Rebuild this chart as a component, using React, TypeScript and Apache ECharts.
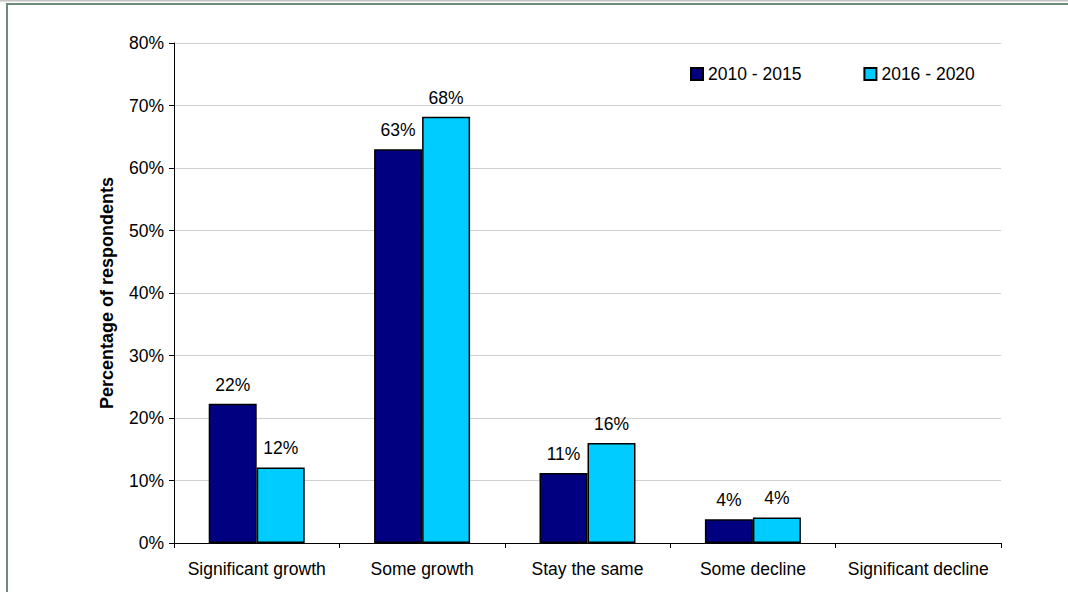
import React, { useEffect, useRef } from "react";
import * as echarts from "echarts";

const categories = ["Significant growth", "Some growth", "Stay the same", "Some decline", "Significant decline"];
const series2010 = [22.3, 63.0, 11.2, 3.8, 0];
const series2016 = [12.1, 68.2, 16.0, 4.1, 0];
const seriesNames = ["2010 - 2015", "2016 - 2020"];
const yTicks = [0, 10, 20, 30, 40, 50, 60, 70, 80];

const FONT = "'Liberation Sans', Arial, sans-serif";
const FS = 17.5;

export default function App() {
  const ref = useRef<HTMLDivElement>(null);
  useEffect(() => {
    document.body.style.margin = "0";
    const chart = echarts.init(ref.current!, null, { renderer: "svg" });
    const labelOpt = {
      show: true,
      position: "top",
      distance: 10,
      color: "#000",
      fontSize: FS,
      fontFamily: FONT,
      formatter: (p: any) => (p.value > 0 ? Math.round(p.value) + "%" : ""),
    };
    const toData = (arr: number[]) =>
      arr.map((v) => (v > 0 ? v : { value: v, itemStyle: { borderWidth: 0, opacity: 0 } }));
    chart.setOption({
      animation: false,
      backgroundColor: "#fff",
      textStyle: { fontFamily: FONT },
      graphic: [
        { type: "rect", shape: { x: 0, y: 0, width: 1068, height: 1.5 }, style: { fill: "#c4c4c4" }, silent: true },
        {
          type: "rect",
          shape: { x: 7, y: 4, width: 1200, height: 800 },
          style: { fill: "none", stroke: "#6e8a7a", lineWidth: 2 },
          silent: true,
        },
      ],
      legend: {
        data: seriesNames,
        left: 690,
        top: 65,
        padding: 0,
        itemWidth: 12,
        itemHeight: 12,
        itemGap: 62,
        icon: "rect",
        textStyle: { fontSize: FS, color: "#000", fontFamily: FONT },
      },
      grid: { left: 174, right: 67, top: 43, bottom: 49, containLabel: false },
      xAxis: {
        type: "category",
        data: categories,
        axisLine: { lineStyle: { color: "#000", width: 1 } },
        axisTick: { show: true, length: 5, lineStyle: { color: "#000" } },
        axisLabel: { color: "#000", fontSize: FS, margin: 17, fontFamily: FONT, interval: 0 },
      },
      yAxis: {
        type: "value",
        min: 0,
        max: 80,
        interval: 10,
        name: "Percentage of respondents",
        nameLocation: "middle",
        nameGap: 58,
        nameTextStyle: { color: "#000", fontSize: 18, fontWeight: "bold", fontFamily: FONT },
        axisLine: { show: true, lineStyle: { color: "#000", width: 1 } },
        axisTick: { show: true, length: 5, lineStyle: { color: "#000" } },
        axisLabel: {
          color: "#000",
          fontSize: FS,
          margin: 10,
          fontFamily: FONT,
          formatter: (v: number) => (yTicks.includes(v) ? v + "%" : ""),
        },
        splitLine: { show: true, lineStyle: { color: "#d0d0d0", width: 1 } },
      },
      series: [
        {
          name: seriesNames[0],
          type: "bar",
          data: toData(series2010),
          barWidth: 48,
          barGap: "0%",
          itemStyle: { color: "#000080", borderColor: "#000", borderWidth: 1.5 },
          label: labelOpt,
        },
        {
          name: seriesNames[1],
          type: "bar",
          data: toData(series2016),
          barWidth: 48,
          barGap: "0%",
          itemStyle: { color: "#00ccff", borderColor: "#000", borderWidth: 1.5 },
          label: labelOpt,
        },
      ],
    });
    return () => chart.dispose();
  }, []);
  return <div ref={ref} style={{ width: 1068, height: 592 }} />;
}
